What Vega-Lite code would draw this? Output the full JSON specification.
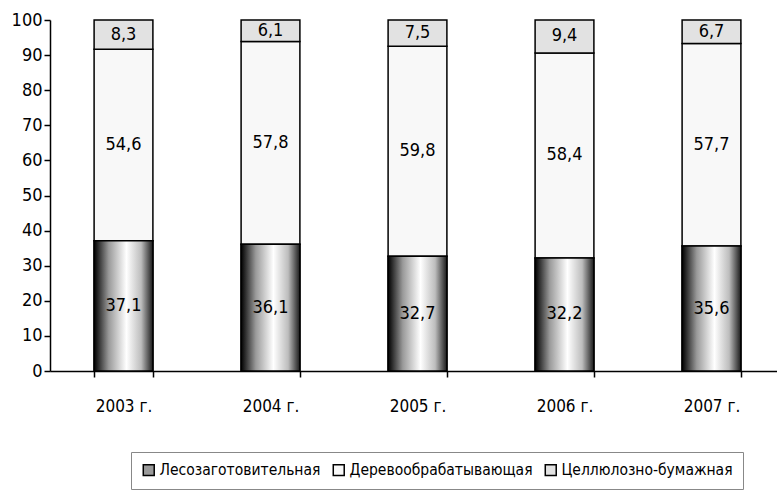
{
  "$schema": "https://vega.github.io/schema/vega-lite/v6.json",
  "width": 735,
  "height": 351,
  "autosize": {"type": "none"},
  "padding": {"left": 50, "top": 20, "right": 0, "bottom": 121},
  "background": "white",
  "config": {
    "font": "DejaVu Sans Condensed",
    "view": {"stroke": null},
    "axis": {
      "domainColor": "black", "domainWidth": 1.5, "tickColor": "black",
      "tickWidth": 1.5, "tickSize": 6, "labelColor": "black", "grid": false, "title": null
    },
    "axisY": {"tickCount": 11, "labelFontSize": 18, "labelPadding": 2},
    "locale": {"number": {"decimal": ",", "thousands": " ", "grouping": [3], "currency": ["", ""]}}
  },
  "data": {
    "values": [
      {"year": "2003 г.", "cat": "Лесозаготовительная", "value": 37.1},
      {"year": "2003 г.", "cat": "Деревообрабатывающая", "value": 54.6},
      {"year": "2003 г.", "cat": "Целлюлозно-бумажная", "value": 8.3},
      {"year": "2004 г.", "cat": "Лесозаготовительная", "value": 36.1},
      {"year": "2004 г.", "cat": "Деревообрабатывающая", "value": 57.8},
      {"year": "2004 г.", "cat": "Целлюлозно-бумажная", "value": 6.1},
      {"year": "2005 г.", "cat": "Лесозаготовительная", "value": 32.7},
      {"year": "2005 г.", "cat": "Деревообрабатывающая", "value": 59.8},
      {"year": "2005 г.", "cat": "Целлюлозно-бумажная", "value": 7.5},
      {"year": "2006 г.", "cat": "Лесозаготовительная", "value": 32.2},
      {"year": "2006 г.", "cat": "Деревообрабатывающая", "value": 58.4},
      {"year": "2006 г.", "cat": "Целлюлозно-бумажная", "value": 9.4},
      {"year": "2007 г.", "cat": "Лесозаготовительная", "value": 35.6},
      {"year": "2007 г.", "cat": "Деревообрабатывающая", "value": 57.7},
      {"year": "2007 г.", "cat": "Целлюлозно-бумажная", "value": 6.7}
    ]
  },
  "transform": [
    {"stack": "value", "groupby": ["year"], "as": ["y0", "y1"]},
    {"calculate": "(datum.y0 + datum.y1) / 2", "as": "mid"}
  ],
  "encoding": {
    "x": {
      "field": "year", "type": "nominal", "sort": null,
      "scale": {"paddingInner": 0.6, "paddingOuter": 0.3},
      "axis": {
        "title": null, "labelAngle": 0, "labelFontSize": 17,
        "labelPadding": 21, "tickBand": "extent"
      }
    }
  },
  "layer": [
    {
      "mark": {"type": "bar", "stroke": "black", "strokeWidth": 1.5},
      "encoding": {
        "y": {
          "field": "y0", "type": "quantitative",
          "scale": {"domain": [0, 100], "nice": false}
        },
        "y2": {"field": "y1"},
        "color": {
          "field": "cat", "type": "nominal",
          "scale": {
            "domain": ["Лесозаготовительная", "Деревообрабатывающая", "Целлюлозно-бумажная"],
            "range": ["#9a9a9a", "#f8f8f8", "#e2e2e2"]
          },
          "legend": {
            "title": null, "orient": "none", "legendX": 81, "legendY": 432,
            "direction": "horizontal", "symbolType": "square", "symbolSize": 120,
            "symbolStrokeColor": "black", "symbolStrokeWidth": 1.5, "symbolOpacity": 1,
            "labelFontSize": 15.5, "labelColor": "black", "columnPadding": 9, "labelLimit": 0,
            "strokeColor": "#888", "padding": 10, "labelOffset": 3
          }
        }
      }
    },
    {
      "transform": [{"filter": "datum.cat === 'Лесозаготовительная'"}],
      "mark": {
        "type": "bar", "stroke": "black", "strokeWidth": 1.5,
        "fill": {
          "gradient": "linear", "x1": 0, "x2": 1, "y1": 0, "y2": 0,
          "stops": [
            {"offset": 0, "color": "#000000"},
            {"offset": 0.25, "color": "#9a9a9a"},
            {"offset": 0.55, "color": "#ffffff"},
            {"offset": 0.8, "color": "#bdbdbd"},
            {"offset": 1, "color": "#1a1a1a"}
          ]
        }
      },
      "encoding": {
        "y": {"field": "y0", "type": "quantitative"},
        "y2": {"field": "y1"}
      }
    },
    {
      "mark": {"type": "text", "fontSize": 18, "color": "black"},
      "encoding": {
        "y": {"field": "mid", "type": "quantitative"},
        "text": {"field": "value", "type": "quantitative", "format": ".1f"}
      }
    }
  ]
}
